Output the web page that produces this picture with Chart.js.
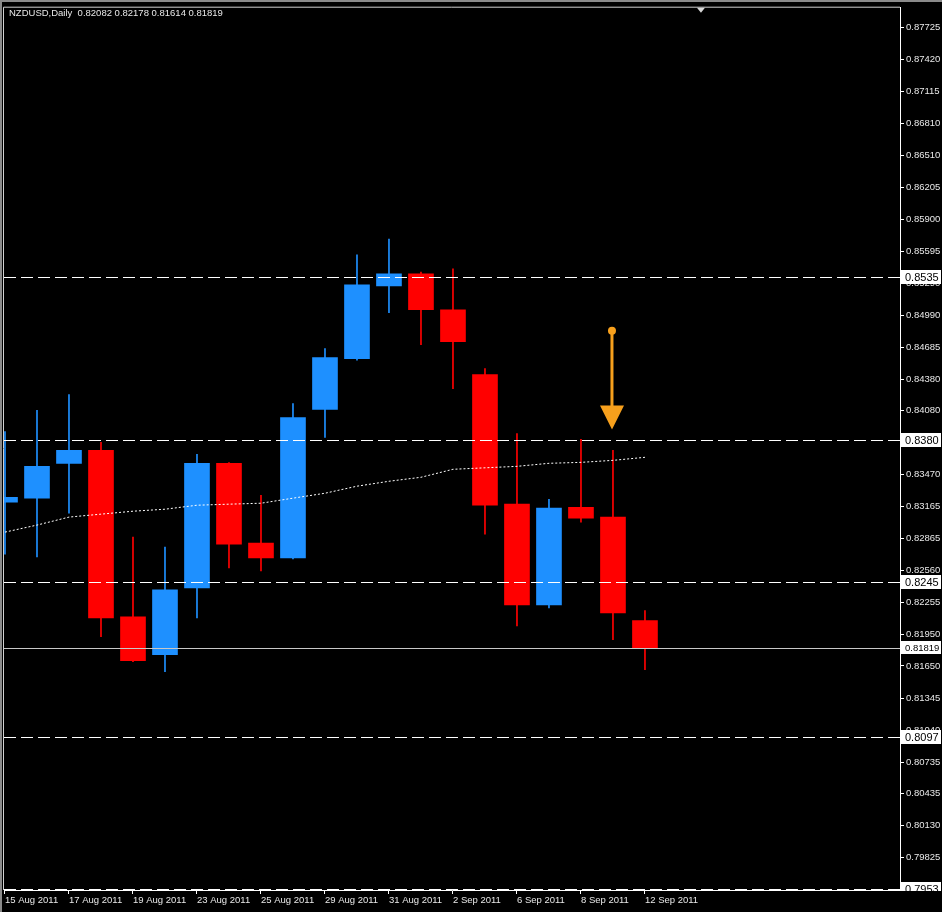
<!DOCTYPE html>
<html>
<head>
<meta charset="utf-8">
<script src="https://cdn.jsdelivr.net/npm/chart.js@4.4.0/dist/chart.umd.min.js"></script>
<style>
  html, body { margin: 0; padding: 0; background: #000; }
  #wrap { width: 942px; height: 912px; }
</style>
</head>
<body>
<div id="wrap"><canvas id="chart" width="942" height="912"></canvas></div>
<script>
// NZDUSD daily candles, 15 Aug - 12 Sep 2011
const dates = ['15 Aug 2011','16 Aug 2011','17 Aug 2011','18 Aug 2011','19 Aug 2011',
  '22 Aug 2011','23 Aug 2011','24 Aug 2011','25 Aug 2011','26 Aug 2011',
  '29 Aug 2011','30 Aug 2011','31 Aug 2011','1 Sep 2011','2 Sep 2011',
  '5 Sep 2011','6 Sep 2011','7 Sep 2011','8 Sep 2011','9 Sep 2011','12 Sep 2011'];
const opens  = [0.83209,0.83247,0.83579,0.83702,0.82118,0.81757,0.82393,0.83579,0.82820,0.82678,
  0.84091,0.84575,0.85268,0.85382,0.85040,0.84423,0.83190,0.82232,0.83161,0.83067,0.82082];
const highs  = [0.83882,0.84082,0.84234,0.83778,0.82877,0.82782,0.83664,0.83585,0.83275,0.84148,
  0.84670,0.85562,0.85714,0.85400,0.85429,0.84480,0.83863,0.83237,0.83807,0.83702,0.82178];
const lows   = [0.82715,0.82687,0.83105,0.81928,0.81690,0.81596,0.82108,0.82583,0.82554,0.82670,
  0.83825,0.84560,0.85012,0.84708,0.84290,0.82905,0.82032,0.82203,0.83019,0.81900,0.81614];
const closes = [0.83256,0.83550,0.83702,0.82108,0.81700,0.82374,0.83579,0.82810,0.82678,0.84015,
  0.84585,0.85277,0.85382,0.85040,0.84736,0.83180,0.82232,0.83152,0.83057,0.82156,0.81819];
const movingAvg = [0.82924,0.82991,0.83067,0.83095,0.83123,0.83142,0.83180,0.83190,0.83199,0.83247,
  0.83294,0.83361,0.83408,0.83446,0.83522,0.83536,0.83550,0.83579,0.83588,0.83607,0.83636];

const priceTicks = [0.87725,0.87420,0.87115,0.86810,0.86510,0.86205,0.85900,0.85595,0.85290,
  0.84990,0.84685,0.84380,0.84080,0.83775,0.83470,0.83165,0.82865,0.82560,0.82255,
  0.81950,0.81650,0.81345,0.81040,0.80735,0.80435,0.80130,0.79825];
const dateTicks = [0,2,4,6,8,10,12,14,16,18,20];

const levels = [0.8535, 0.8380, 0.8245, 0.8097, 0.7953];
const levelLabels = ['0.8535','0.8380','0.8245','0.8097','0.7953'];
const lastPrice = 0.81819;
const titleText = 'NZDUSD,Daily  0.82082 0.82178 0.81614 0.81819';

// arrow pointing down at the 9 Sep candle
const arrowCandle = 19;
const arrowFrom = 0.8484;
const arrowTo = 0.8390;
const shiftMarker = 21.75;

const BLUE = '#1e90ff', RED = '#ff0000';
const candleColor = i => closes[i] >= opens[i] ? BLUE : RED;

const bodies = dates.map((d, i) => ({ x: i, y: [opens[i], closes[i]] }));
const wicks = dates.map((d, i) => ({ x: i, y: [lows[i], highs[i]] }));
const maPoints = dates.map((d, i) => ({ x: i, y: movingAvg[i] }));

const FONT = 'Liberation Sans, Arial, sans-serif';

const overlay = {
  id: 'overlay',
  beforeDraw(chart) {
    const c = chart.ctx;
    c.save();
    c.fillStyle = '#000';
    c.fillRect(0, 0, chart.width, chart.height);
    c.fillStyle = '#8a8a8a';
    c.fillRect(0, 0, chart.width, 2);
    c.fillRect(0, 0, 2, chart.height);
    c.restore();
  },
  afterDraw(chart) {
    const c = chart.ctx;
    const a = chart.chartArea;
    const xs = chart.scales.x, ys = chart.scales.y;
    c.save();
    // plot frame left/top
    c.strokeStyle = '#d0d0d0';
    c.lineWidth = 1;
    c.beginPath();
    c.moveTo(a.left - 0.5, a.bottom);
    c.lineTo(a.left - 0.5, a.top - 0.5);
    c.lineTo(a.right, a.top - 0.5);
    c.stroke();

    // dashed levels
    c.strokeStyle = '#ffffff';
    c.setLineDash([12, 5]);
    levels.forEach(v => {
      const y = Math.round(ys.getPixelForValue(v)) + 0.5;
      c.beginPath();
      c.moveTo(a.left, y);
      c.lineTo(a.right + 2, y);
      c.stroke();
    });
    c.setLineDash([]);
    // last price line
    const yl = Math.round(ys.getPixelForValue(lastPrice)) + 0.5;
    c.strokeStyle = '#c8c8c8';
    c.beginPath();
    c.moveTo(a.left, yl);
    c.lineTo(a.right, yl);
    c.stroke();

    // label boxes on the price axis
    c.save();
    c.beginPath();
    c.rect(a.right + 1, 0, chart.width, a.bottom + 1);
    c.clip();
    c.textBaseline = 'middle';
    c.textAlign = 'left';
    levels.forEach((v, i) => {
      const y = Math.round(ys.getPixelForValue(v));
      c.fillStyle = '#ffffff';
      c.fillRect(a.right + 1, y - 7, 40, 14);
      c.fillStyle = '#000000';
      c.font = '11px ' + FONT;
      c.fillText(levelLabels[i], a.right + 5, y + 0.5);
    });
    c.fillStyle = '#ffffff';
    c.fillRect(a.right + 1, yl - 7.5, 40, 13);
    c.fillStyle = '#000000';
    c.font = '9.5px ' + FONT;
    c.fillText(lastPrice.toFixed(5), a.right + 5, yl);
    c.restore();

    // title
    c.fillStyle = '#e8e8e8';
    c.font = '9.5px ' + FONT;
    c.textAlign = 'left';
    c.textBaseline = 'middle';
    c.fillText(titleText, 9, 13);

    // chart shift marker
    const mx = xs.getPixelForValue(shiftMarker);
    c.fillStyle = '#d8d8d8';
    c.beginPath();
    c.moveTo(mx - 4, a.top);
    c.lineTo(mx + 4, a.top);
    c.lineTo(mx, a.top + 5);
    c.closePath();
    c.fill();

    // orange arrow
    const ax = xs.getPixelForValue(arrowCandle) - 1;
    const y1 = ys.getPixelForValue(arrowFrom);
    const y2 = ys.getPixelForValue(arrowTo);
    c.strokeStyle = '#f7a01c';
    c.fillStyle = '#f7a01c';
    c.lineWidth = 3;
    c.beginPath();
    c.moveTo(ax, y1);
    c.lineTo(ax, y2 - 20);
    c.stroke();
    c.beginPath();
    c.arc(ax, y1, 4, 0, Math.PI * 2);
    c.fill();
    c.beginPath();
    c.moveTo(ax - 12, y2 - 24);
    c.lineTo(ax + 12, y2 - 24);
    c.lineTo(ax, y2);
    c.closePath();
    c.fill();
    c.restore();
  }
};

new Chart(document.getElementById('chart'), {
  type: 'bar',
  data: {
    datasets: [{
      type: 'line',
      data: maPoints,
      borderColor: '#ffffff',
      borderWidth: 1,
      borderDash: [2, 2],
      pointRadius: 0,
      tension: 0,
      order: 0
    }, {
      data: bodies,
      backgroundColor: ctx => candleColor(ctx.dataIndex),
      barThickness: 25,
      grouped: false,
      order: 1
    }, {
      data: wicks,
      backgroundColor: ctx => candleColor(ctx.dataIndex),
      barThickness: 1,
      grouped: false,
      order: 2
    }]
  },
  options: {
    responsive: false,
    animation: false,
    layout: { padding: { left: 4, top: 5, right: 0, bottom: 0 } },
    plugins: { legend: { display: false }, tooltip: { enabled: false } },
    scales: {
      x: {
        type: 'linear',
        offset: false,
        min: -0.031,
        max: 27.97,
        afterFit: s => { s.height = 22; },
        afterBuildTicks: s => { s.ticks = dateTicks.map(v => ({ value: v })); },
        ticks: {
          callback: v => dates[v],
          align: 'start',
          maxRotation: 0,
          autoSkip: false,
          padding: 1,
          color: '#e8e8e8',
          font: { family: FONT, size: 9.5 }
        },
        grid: { drawOnChartArea: false, offset: false, tickLength: 4, color: '#ffffff' },
        border: { color: '#ffffff' }
      },
      y: {
        position: 'right',
        min: 0.79518,
        max: 0.87915,
        afterFit: s => { s.width = 42; },
        afterBuildTicks: s => { s.ticks = priceTicks.map(v => ({ value: v })); },
        ticks: {
          callback: v => v.toFixed(5),
          autoSkip: false,
          padding: 2,
          color: '#e8e8e8',
          font: { family: FONT, size: 9.5 }
        },
        grid: { drawOnChartArea: false, tickLength: 4, color: '#ffffff' },
        border: { color: '#ffffff' }
      }
    }
  },
  plugins: [overlay]
});
</script>
</body>
</html>
